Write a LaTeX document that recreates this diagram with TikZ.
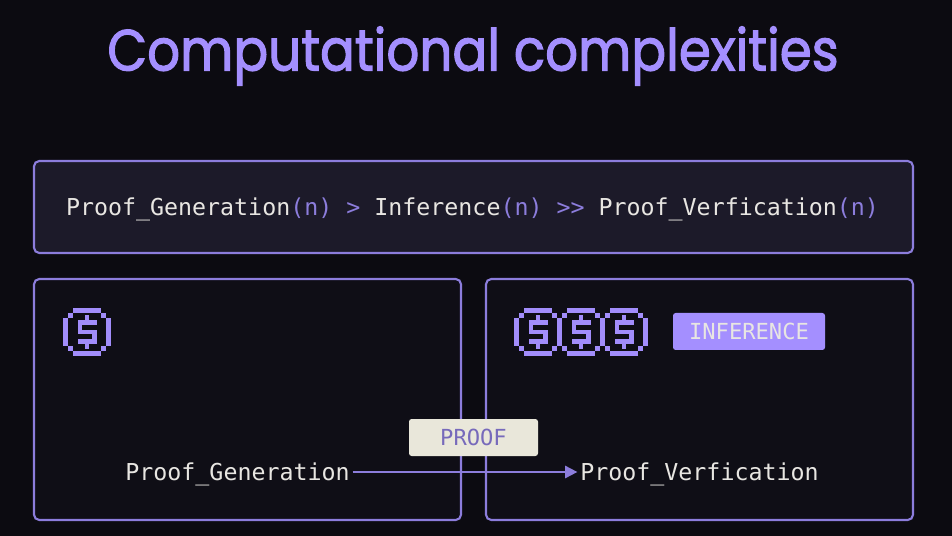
\documentclass[tikz,border=0pt]{standalone}
\usepackage{fontspec}
\setmonofont{DejaVu Sans Mono}
\newfontfamily\titlefont[FakeBold=2]{Poppins}
\usetikzlibrary{arrows.meta}

\definecolor{slide}{HTML}{0C0B11}
\definecolor{panel}{HTML}{0F0E16}
\definecolor{strip}{HTML}{1C1A29}
\definecolor{violet}{HTML}{8C7DDC}
\definecolor{lilac}{HTML}{A48FFF}
\definecolor{paper}{HTML}{E9E7DA}
\definecolor{chalk}{HTML}{E8E6E2}

\tikzset{
    framebox/.style={draw=violet, line width=1.2pt, rounded corners=3pt, inner sep=0pt},
    codetext/.style={text=chalk, inner sep=0pt, text height=11pt, text depth=1.6pt, font=\ttfamily\fontsize{13.25}{16}\selectfont},
    badge/.style={rounded corners=1.5pt, inner sep=0pt, minimum height=37*0.02cm, font=\ttfamily\fontsize{12.6}{16}\selectfont},
    coin/.pic={
        \foreach \a/\b/\c/\d in {2/0/8/1, 2/9/8/10, 0/2/1/8, 9/2/10/8, 1/1/2/2, 8/1/9/2, 1/8/2/9, 8/8/9/9,
                4.5/1.5/5.5/2.5, 3/2.5/7/3.5, 3/3.5/4/4.5, 3/4.5/7/5.5, 6/5.5/7/6.5, 3/6.5/7/7.5, 4.5/7.5/5.5/8.5}
            \fill[lilac!90!violet] ({(\a-5)*4.75},{(\b-5)*4.75}) rectangle ({(\c-5)*4.75},{(\d-5)*4.75});
    }
}

\newcommand{\pur}[1]{\textcolor{violet}{#1}}

\begin{document}
\begin{tikzpicture}[x=0.02cm, y=-0.02cm]
    \useasboundingbox (0,0) rectangle (952,536);
    \fill[slide] (0,0) rectangle (952,536);

    % Title
    \node[text=lilac, inner sep=0pt, xscale=0.89, font=\titlefont\fontsize{33}{40}\selectfont] (title) at (473,56) {Computational complexities};

    % Boxes
    \node[framebox, fill=strip, minimum width=879*0.02cm, minimum height=92*0.02cm] (topbox) at (473.5,207) {};
    \node[framebox, fill=panel, minimum width=427*0.02cm, minimum height=241*0.02cm] (leftbox) at (247.5,399.5) {};
    \node[framebox, fill=panel, minimum width=427*0.02cm, minimum height=241*0.02cm] (rightbox) at (699.5,399.5) {};

    % Complexity line
    \node[codetext] (formula) at (472.5,207.5) {Proof\_Generation\pur{(n)} \pur{>} Inference\pur{(n)} \pur{>>} Proof\_Verfication\pur{(n)}};

    % Coins
    \pic at (87,332) {coin};
    \pic at (538,332) {coin};
    \pic at (581,332) {coin};
    \pic at (624,332) {coin};
    \node[badge, fill=lilac, text=chalk, minimum width=152*0.02cm] (inference) at (749,331.5) {INFERENCE};

    % Proof passing
    \node[codetext, anchor=east] (generation) at (350,472) {Proof\_Generation};
    \node[codetext, anchor=west] (verification) at (580,472) {Proof\_Verfication};
    \draw[-{Triangle[length=7pt,width=7pt]}, violet, line width=1.1pt, shorten <=1.5pt, shorten >=1.5pt] (generation) -- (verification);
    \node[badge, fill=paper, text=violet!85!black, minimum width=129*0.02cm] (proof) at (473.5,437.5) {PROOF};
\end{tikzpicture}
\end{document}
